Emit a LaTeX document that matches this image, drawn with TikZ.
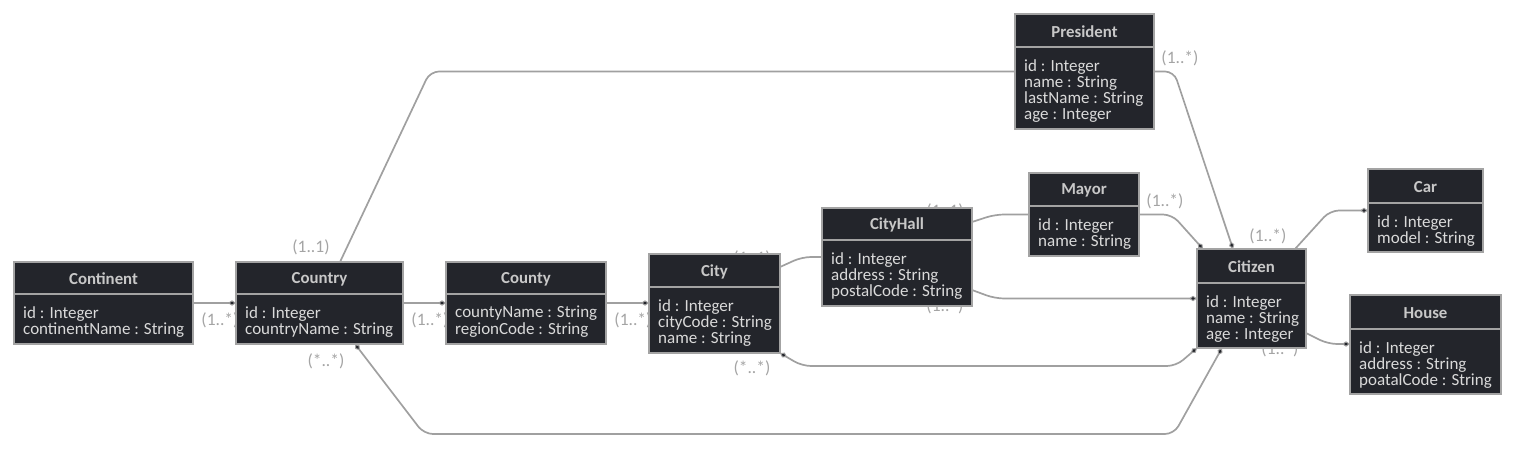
\documentclass[tikz,border=0pt]{standalone}
\usepackage{fontspec}
\setmainfont{Carlito}
\usetikzlibrary{arrows.meta,calc}
\definecolor{boxfill}{HTML}{23252B}
\definecolor{boxline}{HTML}{A3A3A3}
\definecolor{txt}{HTML}{DADADA}
\definecolor{hdr}{HTML}{C8C8C8}
\definecolor{conncol}{HTML}{A0A0A0}
\definecolor{lbl}{HTML}{A4A4A4}
\pgfdeclarelayer{bg}
\pgfsetlayers{bg,main}
\newcommand\umlclass[8]{%
  \node[classbox, minimum width=#4pt, minimum height=#5pt] (#1) at (#2,#3) {};
  \draw[divider] ({#2},{#3+#6}) -- ({#2+#4},{#3+#6});
  \node[classtitle] (#1-title) at ({#2+#4/2},{#3+#6/2+1}) {#7};
  \node[classattrs] (#1-attrs) at ({#2+9},{#3+#6+12}) {#8};
}
\begin{document}
\begin{tikzpicture}[x=1pt,y=-1pt,
  classbox/.style={draw=boxline, fill=boxfill, line width=1.6pt, anchor=north west, inner sep=0pt, outer sep=0pt},
  divider/.style={draw=boxline, line width=1.6pt},
  classtitle/.style={font=\fontsize{16.8}{16}\selectfont\bfseries, text=hdr, inner sep=0pt},
  classattrs/.style={font=\fontsize{17}{16.2}\selectfont, text=txt, inner sep=0pt, anchor=north west, align=left},
  conn/.style={draw=conncol, line width=1.7pt, rounded corners=9pt},
  dia/.tip={Diamond[length=8pt,width=5.5pt,line width=1pt,fill=boxfill]},
  mult/.style={font=\fontsize{17.5}{16}\selectfont, text=lbl, inner sep=0pt}]
\useasboundingbox (0,0) rectangle (1515,449);

\umlclass{continent}{14}{262}{179}{82}{32}{Continent}{id : Integer\\continentName : String}
\umlclass{country}{236}{262}{167}{82}{32}{Country}{id : Integer\\countryName : String}
\umlclass{county}{446}{262}{160}{82}{32}{County}{countyName : String\\regionCode : String}
\umlclass{city}{649}{254}{131}{99}{33}{City}{id : Integer\\cityCode : String\\name : String}
\umlclass{cityhall}{822}{208}{150}{98}{32}{CityHall}{id : Integer\\address : String\\postalCode : String}
\umlclass{mayor}{1029}{173}{110}{83}{33}{Mayor}{id : Integer\\name : String}
\umlclass{president}{1015}{14}{139}{115}{33}{President}{id : Integer\\name : String\\lastName : String\\age : Integer}
\umlclass{citizen}{1197}{249}{109}{99}{34}{Citizen}{id : Integer\\name : String\\age : Integer}
\umlclass{car}{1368}{169}{115}{83}{34}{Car}{id : Integer\\model : String}
\umlclass{house}{1350}{295}{151}{99}{34}{House}{id : Integer\\address : String\\poatalCode : String}

\begin{pgfonlayer}{bg}
  % connectors
  \draw[conn,-dia] (continent.east) -- (country.west);
  \draw[conn,-dia] (country.east) -- (county.west);
  \draw[conn,-dia] (county.east) -- (city.west |- county.east);
  \draw[conn] (country.north -| 340,0) -- (430,71.5) -- (president.west);
  \draw[conn,-dia] (president.east) -- (1174,71.5) -- (citizen.north -| 1233,0);
  \draw[conn] (city.east |- 0,267) -- (802,257) -- (cityhall.west);
  \draw[conn] (cityhall.east |- 0,222) -- (995,214.5) -- (mayor.west);
  \draw[conn,-dia] (mayor.east) -- (1172,214.5) -- (citizen.north -| 1203,0);
  \draw[conn,-dia] (cityhall.east |- 0,290) -- (995,298.5) -- (citizen.west);
  \draw[conn,dia-dia] (city.south east) -- (802,366) -- (1176,366) -- (citizen.south west);
  \draw[conn,dia-dia] (country.south -| 355,0) -- (424,434) -- (1174,434) -- (citizen.south -| 1222,0);
  \draw[conn,-dia] (citizen.north -| 1295,0) -- (1330,210.5) -- (car.west);
  \draw[conn,-dia] (citizen.east |- 0,333) -- (1328,344) -- (house.west |- 0,344);
  % multiplicities
  \node[mult] (m1) at (220,320) {(1..*)};
  \node[mult] (m2) at (430,320) {(1..*)};
  \node[mult] (m3) at (633,320) {(1..*)};
  \node[mult] (m4) at (311,247) {(1..1)};
  \node[mult] (m5) at (326,361) {(*..*)};
  \node[mult] (m6) at (752,258) {(1..1)};
  \node[mult] (m7) at (752,368) {(*..*)};
  \node[mult] (m8) at (945,211) {(1..1)};
  \node[mult] (m9) at (945,306) {(1..*)};
  \node[mult] (m10) at (1165,201) {(1..*)};
  \node[mult] (m11) at (1180,58) {(1..*)};
  \node[mult] (m12) at (1268,236) {(1..*)};
  \node[mult] (m13) at (1280,349) {(1..*)};
\end{pgfonlayer}
\end{tikzpicture}
\end{document}
